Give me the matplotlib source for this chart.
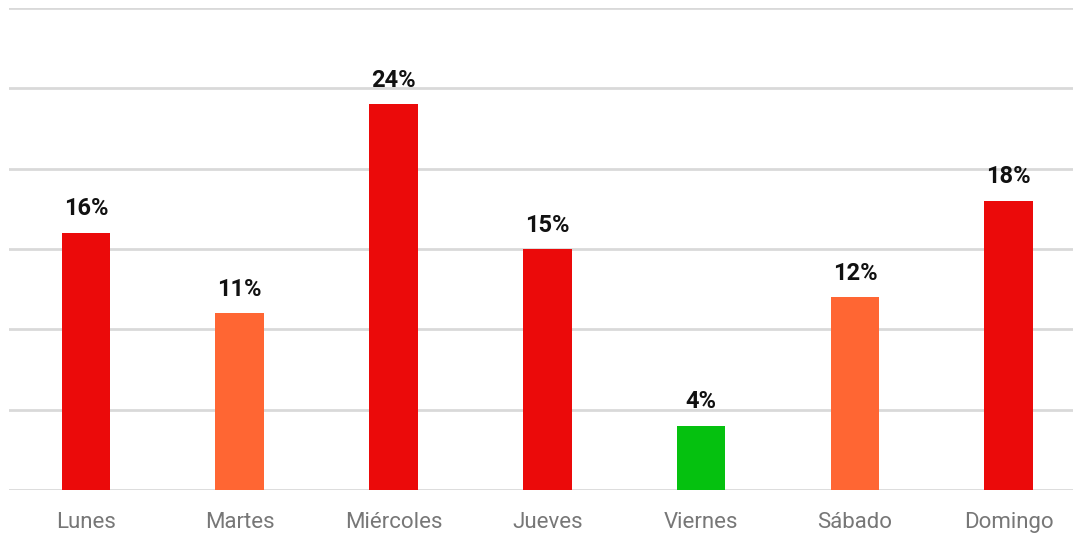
import matplotlib
matplotlib.use("Agg")
import matplotlib.pyplot as plt
from matplotlib import font_manager

days = ['Lunes', 'Martes', 'Miércoles', 'Jueves', 'Viernes', 'Sábado', 'Domingo']
values = [16, 11, 24, 15, 4, 12, 18]
colors = ['#EB0A0A', '#FF6633', '#EB0A0A', '#EB0A0A', '#05C10F', '#FF6633', '#EB0A0A']

names = {f.name for f in font_manager.fontManager.ttflist}
fam = [f for f in ['Liberation Sans Narrow', 'Roboto', 'DejaVu Sans'] if f in names]
plt.rcParams['font.family'] = fam

fig = plt.figure(figsize=(10.73, 5.35), dpi=100)
ax = fig.add_axes([9 / 1073, 45 / 535, 1064 / 1073, 482 / 535])

x = range(len(days))
bars = ax.bar(x, values, width=0.315, color=colors, zorder=3)

for xi, v in zip(x, values):
    ax.annotate('%d%%' % v, (xi, v), xytext=(0, 9), textcoords='offset points',
                ha='center', va='bottom', fontsize=17, fontweight='bold', color='#111111')

ax.set_xlim(-0.5, 6.418)
ax.set_ylim(0, 30)
ax.set_yticks([0, 5, 10, 15, 20, 25, 30])
ax.set_yticklabels([])
ax.grid(axis='y', color='#d9d9d9', linewidth=2, zorder=0)
ax.tick_params(axis='y', length=0)
ax.tick_params(axis='x', length=0, pad=16, labelsize=16, labelcolor='#777777')
ax.set_xticks(list(x))
ax.set_xticklabels(days)
for s in ax.spines.values():
    s.set_visible(False)

fig.savefig('out.png', dpi=100)
